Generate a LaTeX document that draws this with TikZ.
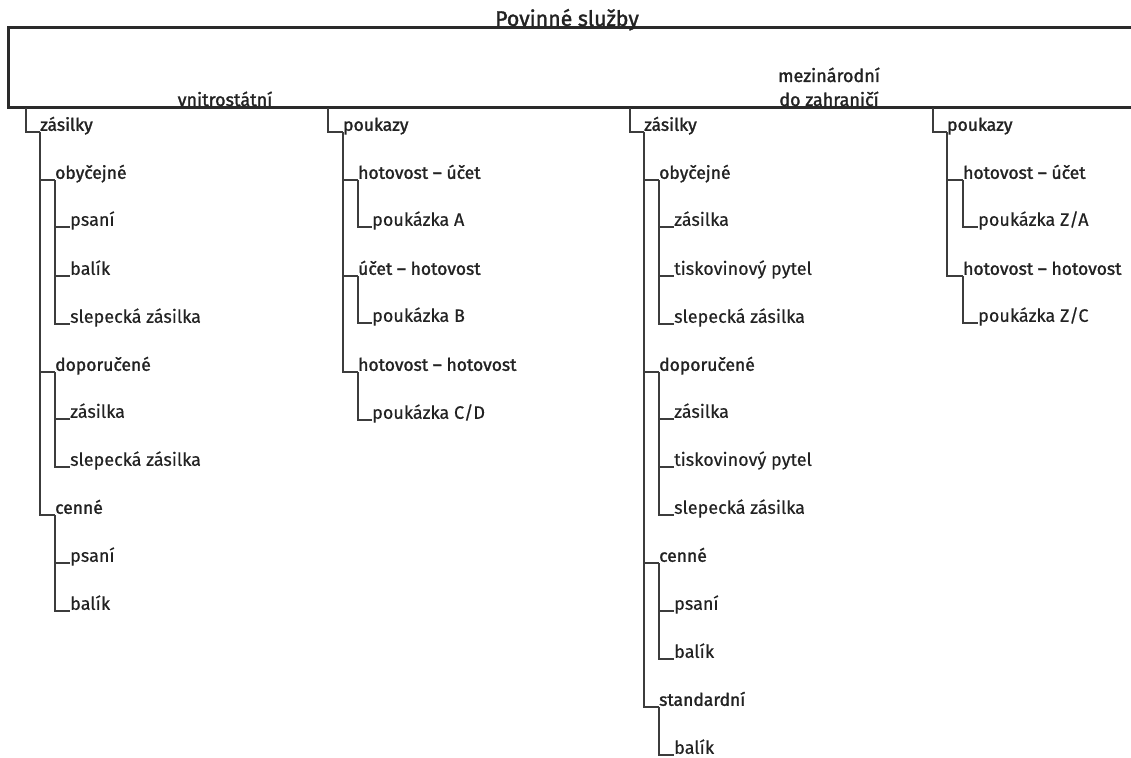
\documentclass[tikz,border=0pt]{standalone}
\usepackage{fontspec}
\setmainfont{Fira Sans}[FakeBold=0.4]
\newfontfamily\medfont{Fira Sans}[FakeBold=1.6]
\definecolor{txt}{HTML}{222222}
\definecolor{linegray}{HTML}{3C3C3C}
\definecolor{boxcol}{HTML}{2A2A2A}
\begin{document}
\begin{tikzpicture}[x=1pt,y=-1pt,
  conn/.style={draw=linegray, line width=1.5pt},
  hd/.style={anchor=south west, inner xsep=0pt, inner ysep=1pt, text depth=0pt, text=txt,
    font=\medfont\fontsize{17.5}{21}\selectfont},
  lf/.style={hd, font=\fontsize{18}{21}\selectfont},
  lab/.style={anchor=base, inner sep=0pt, text=txt, font=\medfont\fontsize{18}{21}\selectfont},
]
\useasboundingbox (0,0) rectangle (1131,757);
% frame
\draw[draw=boxcol, line width=3pt] (8,28) rectangle (1150,108);
\node[lab, font=\medfont\fontsize{21.3}{25}\selectfont] (title) at (567,26) {Povinné služby};
\node[lab] (vn) at (225,106) {vnitrostátní};
\node[lab] (mz1) at (829,82) {mezinárodní};
\node[lab] (mz2) at (829,106) {do zahraničí};
\coordinate (r1) at (26,108);
\coordinate (r2) at (328,108);
\coordinate (r3) at (630,108);
\coordinate (r4) at (933,108);
% column 1
\node[hd] (a) at (40,132) {zásilky};
\node[hd] (a1) at (55,180) {obyčejné};
\node[lf] (a11) at (70,227) {psaní};
\node[lf] (a12) at (70,276) {balík};
\node[lf] (a13) at (70,324) {slepecká zásilka};
\node[hd] (a2) at (55,372) {doporučené};
\node[lf] (a21) at (70,419) {zásilka};
\node[lf] (a22) at (70,467) {slepecká zásilka};
\node[hd] (a3) at (55,515) {cenné};
\node[lf] (a31) at (70,563) {psaní};
\node[lf] (a32) at (70,611) {balík};
% column 2
\node[hd] (b) at (343,132) {poukazy};
\node[hd] (b1) at (358,180) {hotovost – účet};
\node[lf] (b11) at (372,227) {poukázka A};
\node[hd] (b2) at (358,276) {účet – hotovost};
\node[lf] (b21) at (372,323) {poukázka B};
\node[hd] (b3) at (358,372) {hotovost – hotovost};
\node[lf] (b31) at (372,420) {poukázka C/D};
% column 3
\node[hd] (c) at (644,132) {zásilky};
\node[hd] (c1) at (659,180) {obyčejné};
\node[lf] (c11) at (674,227) {zásilka};
\node[lf] (c12) at (674,276) {tiskovinový pytel};
\node[lf] (c13) at (674,324) {slepecká zásilka};
\node[hd] (c2) at (659,372) {doporučené};
\node[lf] (c21) at (674,419) {zásilka};
\node[lf] (c22) at (674,467) {tiskovinový pytel};
\node[lf] (c23) at (674,515) {slepecká zásilka};
\node[hd] (c3) at (659,563) {cenné};
\node[lf] (c31) at (674,611) {psaní};
\node[lf] (c32) at (674,659) {balík};
\node[hd] (c4) at (659,707) {standardní};
\node[lf] (c41) at (674,755) {balík};
% column 4
\node[hd] (d) at (947,132) {poukazy};
\node[hd] (d1) at (963,180) {hotovost – účet};
\node[lf] (d11) at (978,227) {poukázka Z/A};
\node[hd] (d2) at (963,276) {hotovost – hotovost};
\node[lf] (d21) at (978,323) {poukázka Z/C};
% connectors
\foreach \p/\c in {r1/a,r2/b,r3/c,r4/d}
  \draw[conn] (\p) |- (\c.south west);
\foreach \p/\c in {a/a1,a/a2,a/a3,a1/a11,a1/a12,a1/a13,a2/a21,a2/a22,a3/a31,a3/a32,
  b/b1,b/b2,b/b3,b1/b11,b2/b21,b3/b31,
  c/c1,c/c2,c/c3,c/c4,c1/c11,c1/c12,c1/c13,c2/c21,c2/c22,c2/c23,c3/c31,c3/c32,c4/c41,
  d/d1,d/d2,d1/d11,d2/d21}
  \draw[conn] (\p.south west) |- (\c.south west);
\end{tikzpicture}
\end{document}
